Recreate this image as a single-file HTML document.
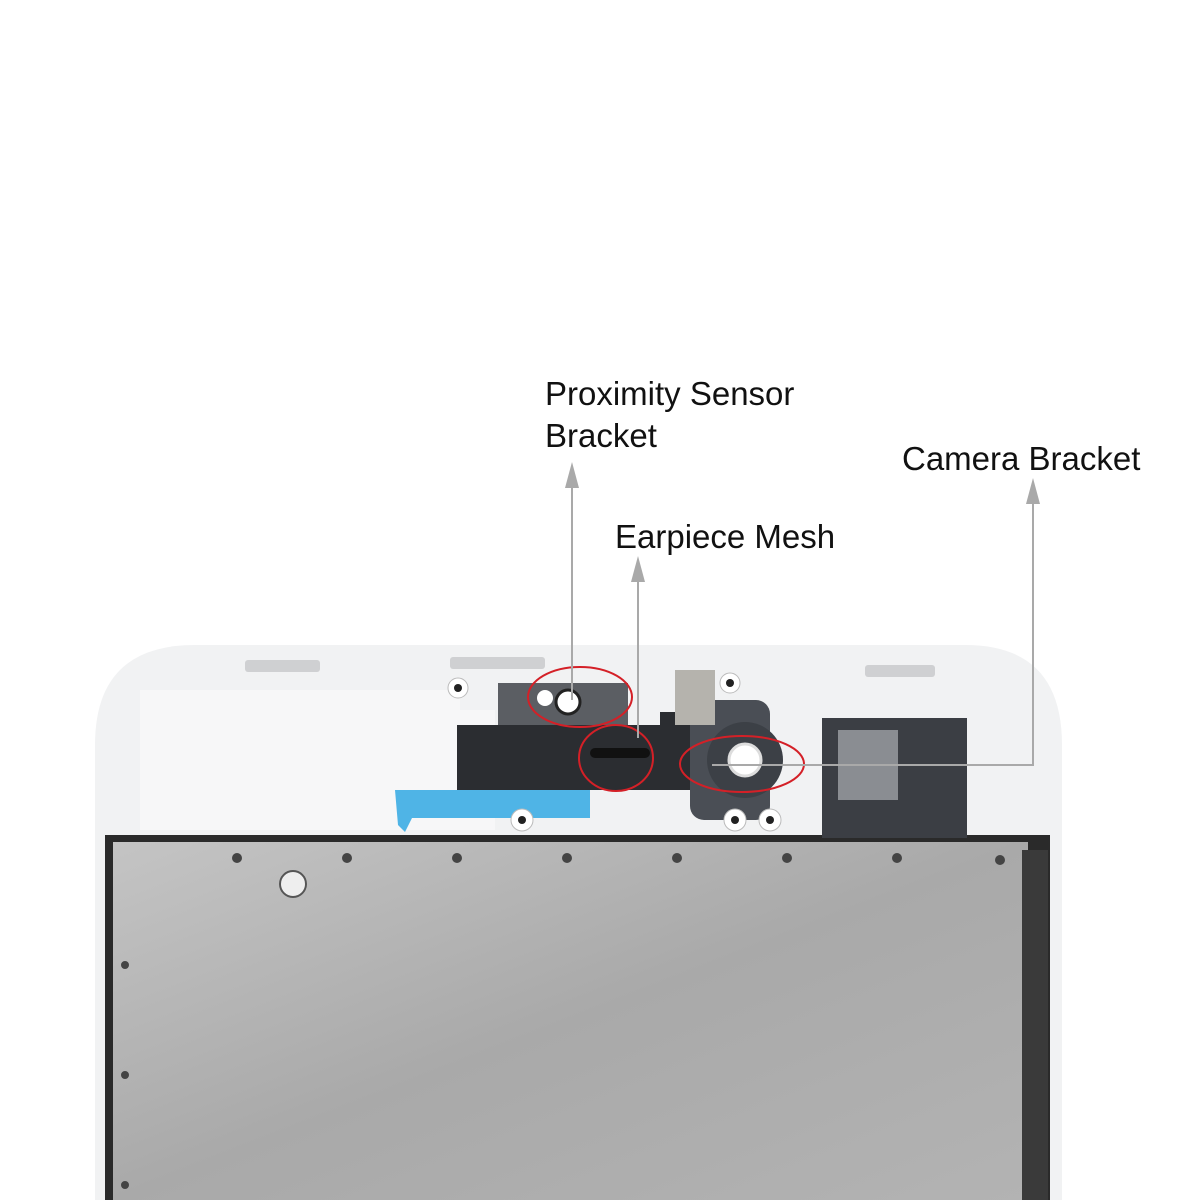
<!DOCTYPE html>
<html><head><style>
html,body{margin:0;padding:0;background:#fff;width:1200px;height:1200px;overflow:hidden}
text{font-family:"Liberation Sans",sans-serif;font-size:33px;fill:#111}
</style></head><body>
<svg width="1200" height="1200" viewBox="0 0 1200 1200" xmlns="http://www.w3.org/2000/svg">
<defs>
<linearGradient id="pl" x1="0" y1="0" x2="1" y2="1">
<stop offset="0" stop-color="#c4c4c4"/><stop offset="0.5" stop-color="#a9a9a9"/><stop offset="1" stop-color="#b3b3b3"/>
</linearGradient>
</defs>
<path d="M95,1200 L95,745 Q95,645 195,645 L965,645 Q1062,645 1062,745 L1062,1200 Z" fill="#f1f2f3"/>
<path d="M140,690 L460,690 L460,710 L495,710 L495,830 L140,830 Z" fill="#f7f7f8"/>
<rect x="105" y="835" width="945" height="365" fill="#2a2a2a"/>
<rect x="113" y="842" width="915" height="358" fill="url(#pl)"/>
<rect x="1022" y="850" width="26" height="350" fill="#3a3a3a"/>
<rect x="245" y="660" width="75" height="12" rx="3" fill="#cfd0d2"/>
<rect x="450" y="657" width="95" height="12" rx="3" fill="#cfd0d2"/>
<rect x="865" y="665" width="70" height="12" rx="3" fill="#cfd0d2"/>
<rect x="498" y="683" width="130" height="60" fill="#5b5e63"/>
<rect x="457" y="725" width="240" height="65" fill="#2b2d31"/>
<rect x="660" y="712" width="45" height="78" fill="#2b2d31"/>
<rect x="690" y="700" width="80" height="120" rx="14" fill="#4a4e55"/>
<polygon points="262,793 365,793 365,790 590,790 590,818 412,818 405,832 398,825 268,833" fill="none"/>
<polygon points="395,790 590,790 590,818 412,818 405,832 398,825" fill="#4fb4e6"/>
<circle cx="745" cy="760" r="38" fill="#3c4046"/>
<circle cx="745" cy="760" r="16" fill="#fff" stroke="#ddd" stroke-width="3"/>
<circle cx="568" cy="702" r="12" fill="#fff" stroke="#222" stroke-width="3"/>
<circle cx="545" cy="698" r="8" fill="#fff"/>
<rect x="590" y="748" width="60" height="10" rx="5" fill="#111"/>
<rect x="675" y="670" width="40" height="55" fill="#b5b3ad"/>
<rect x="822" y="718" width="145" height="120" fill="#3b3e44"/>
<rect x="838" y="730" width="60" height="70" fill="#8a8d92"/>
<g fill="#fff" stroke="#bbb"><circle cx="458" cy="688" r="10"/><circle cx="730" cy="683" r="10"/><circle cx="522" cy="820" r="11"/><circle cx="735" cy="820" r="11"/><circle cx="770" cy="820" r="11"/></g>
<g fill="#222"><circle cx="458" cy="688" r="4"/><circle cx="730" cy="683" r="4"/><circle cx="522" cy="820" r="4"/><circle cx="735" cy="820" r="4"/><circle cx="770" cy="820" r="4"/></g>
<g fill="#444"><circle cx="237" cy="858" r="5"/><circle cx="347" cy="858" r="5"/><circle cx="457" cy="858" r="5"/><circle cx="567" cy="858" r="5"/><circle cx="677" cy="858" r="5"/><circle cx="787" cy="858" r="5"/><circle cx="897" cy="858" r="5"/><circle cx="1000" cy="860" r="5"/><circle cx="125" cy="965" r="4"/><circle cx="125" cy="1075" r="4"/><circle cx="125" cy="1185" r="4"/></g>
<circle cx="293" cy="884" r="13" fill="#eee" stroke="#555" stroke-width="2"/>
<g fill="none" stroke="#d42027" stroke-width="2"><ellipse cx="580" cy="697" rx="52" ry="30"/><ellipse cx="616" cy="758" rx="37" ry="33"/><ellipse cx="742" cy="764" rx="62" ry="28"/></g>
<g stroke="#a9a9a9" stroke-width="2" fill="none"><path d="M572,478 L572,700"/><path d="M638,570 L638,738"/><path d="M1033,492 L1033,765 L712,765"/></g>
<g fill="#a9a9a9"><polygon points="572,462 565,488 579,488"/><polygon points="638,556 631,582 645,582"/><polygon points="1033,478 1026,504 1040,504"/></g>
<text x="545" y="405">Proximity Sensor</text>
<text x="545" y="447">Bracket</text>
<text x="615" y="548">Earpiece Mesh</text>
<text x="902" y="470">Camera Bracket</text>
</svg>
</body></html>
